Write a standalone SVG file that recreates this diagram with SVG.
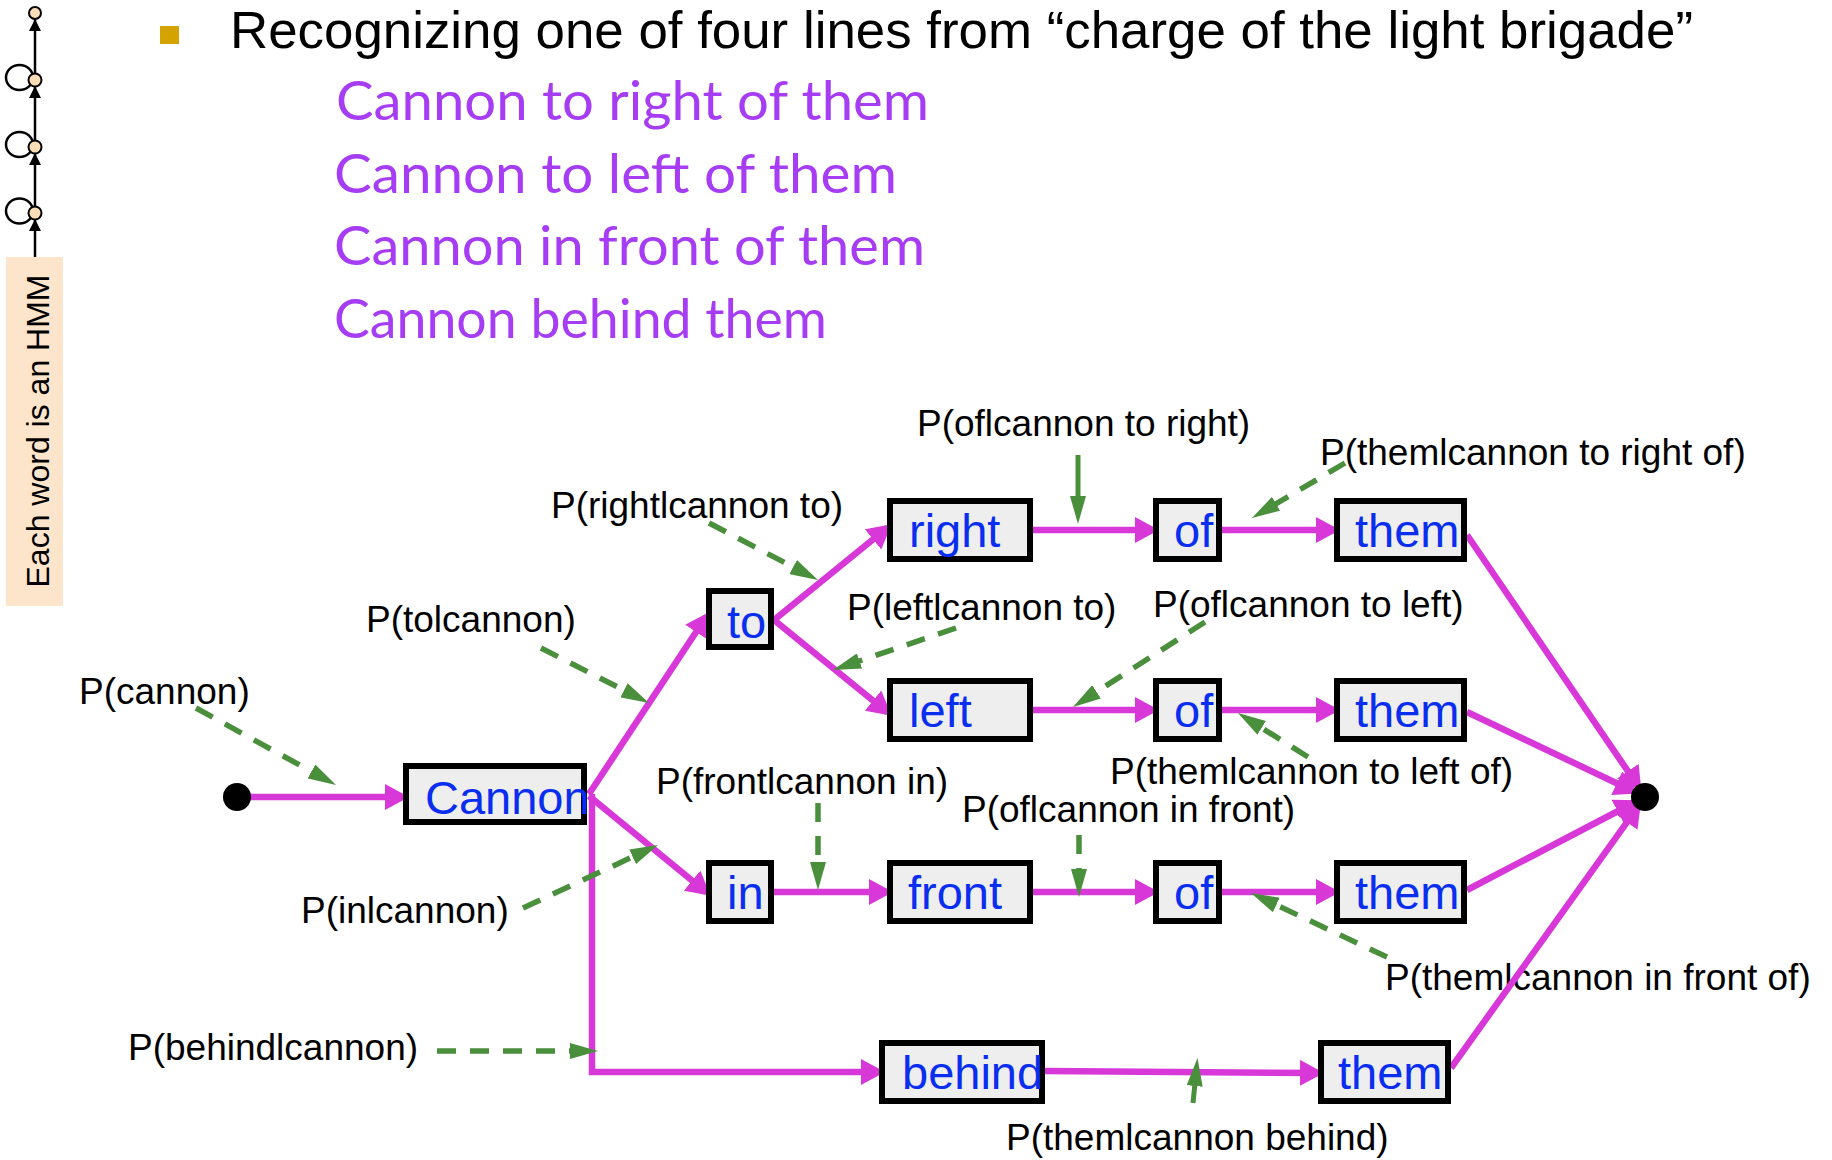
<svg xmlns="http://www.w3.org/2000/svg" width="1832" height="1160" viewBox="0 0 1832 1160">
<defs>
<style>
.lbl{font-family:"Liberation Sans",Arial,sans-serif;font-size:37px;fill:#000}
.word{font-family:"Liberation Sans",Arial,sans-serif;font-size:47px;fill:#0A2EF0}
.box{fill:#EEEEEE;stroke:#000;stroke-width:6}
.mag{fill:none;stroke:#D838D8;stroke-width:6.5;marker-end:url(#mh)}
.grn{fill:none;stroke:#4A8F3C;stroke-width:5.5;stroke-dasharray:19 14;marker-end:url(#gh)}
.grs{fill:none;stroke:#4A8F3C;stroke-width:5;marker-end:url(#gh)}
.verse{font-family:"Comic Sans MS","Lato",sans-serif;font-size:54px;fill:#A63DF5}
.hmm{fill:none;stroke:#000;stroke-width:2.5}
.st{fill:#FDDCB8;stroke:#000;stroke-width:2}
</style>
<marker id="mh" markerUnits="userSpaceOnUse" markerWidth="24" markerHeight="26" refX="18" refY="13" orient="auto">
<path d="M0,0 L24,13 L0,26 z" fill="#D838D8"/>
</marker>
<marker id="gh" markerUnits="userSpaceOnUse" markerWidth="28" markerHeight="16" refX="6" refY="8" orient="auto">
<path d="M0,0 L28,8 L0,16 z" fill="#4A8F3C"/>
</marker>
</defs>
<rect width="1832" height="1160" fill="#fff"/>

<g id="sidebar">
<rect x="6" y="257" width="57" height="349" fill="#FDE5CC"/>
<text transform="translate(49,431) rotate(-90)" text-anchor="middle" font-family="Liberation Sans,Arial,sans-serif" font-size="32" fill="#000">Each word is an HMM</text>
<line class="hmm" x1="35" y1="257" x2="35" y2="19"/>
<ellipse class="hmm" cx="19.5" cy="77.5" rx="13.5" ry="12.5"/>
<ellipse class="hmm" cx="19.5" cy="144.5" rx="13.5" ry="12.5"/>
<ellipse class="hmm" cx="19.5" cy="211" rx="13.5" ry="12.5"/>
<path d="M35,19 L29,31 L41,31 z M35,86 L29,98 L41,98 z M35,153 L29,165 L41,165 z M35,219 L29,231 L41,231 z" fill="#000"/>
<circle class="st" cx="35" cy="13" r="6"/>
<circle class="st" cx="35" cy="80" r="6.5"/>
<circle class="st" cx="35" cy="147" r="6.5"/>
<circle class="st" cx="35" cy="213" r="6.5"/>
</g>

<g id="title">
<rect x="160" y="26" width="19" height="18" fill="#D4A300"/>
<text x="230" y="48" font-family="Liberation Sans,Arial,sans-serif" font-size="52" fill="#000" textLength="1463" lengthAdjust="spacingAndGlyphs">Recognizing one of four lines from “charge of the light brigade”</text>
<text class="verse" x="336" y="120" textLength="593" lengthAdjust="spacingAndGlyphs">Cannon to right of them</text>
<text class="verse" x="334" y="193" textLength="563" lengthAdjust="spacingAndGlyphs">Cannon to left of them</text>
<text class="verse" x="334" y="265" textLength="591" lengthAdjust="spacingAndGlyphs">Cannon in front of them</text>
<text class="verse" x="334" y="338" textLength="493" lengthAdjust="spacingAndGlyphs">Cannon behind them</text>
</g>

<g id="labels">
<text class="lbl" x="79" y="704">P(cannon)</text>
<text class="lbl" x="366" y="632">P(tolcannon)</text>
<text class="lbl" x="551" y="518">P(rightlcannon to)</text>
<text class="lbl" x="917" y="436">P(oflcannon to right)</text>
<text class="lbl" x="1320" y="465">P(themlcannon to right of)</text>
<text class="lbl" x="847" y="620">P(leftlcannon to)</text>
<text class="lbl" x="1153" y="617">P(oflcannon to left)</text>
<text class="lbl" x="1110" y="784">P(themlcannon to left of)</text>
<text class="lbl" x="656" y="794">P(frontlcannon in)</text>
<text class="lbl" x="962" y="822">P(oflcannon in front)</text>
<text class="lbl" x="301" y="923">P(inlcannon)</text>
<text class="lbl" x="1385" y="990">P(themlcannon in front of)</text>
<text class="lbl" x="128" y="1060">P(behindlcannon)</text>
<text class="lbl" x="1006" y="1150">P(themlcannon behind)</text>
</g>

<g id="connectors">
<line class="mag" x1="250" y1="797" x2="403" y2="797"/>
<line class="mag" x1="589" y1="794" x2="706" y2="617"/>
<line class="mag" x1="589" y1="796" x2="706" y2="892"/>
<polyline class="mag" points="592,794 592,1072 879,1072"/>
<line class="mag" x1="774" y1="620" x2="887" y2="528"/>
<line class="mag" x1="774" y1="620" x2="887" y2="712"/>
<line class="mag" x1="1033" y1="530" x2="1153" y2="530"/>
<line class="mag" x1="1222" y1="530" x2="1334" y2="530"/>
<line class="mag" x1="1033" y1="710" x2="1153" y2="710"/>
<line class="mag" x1="1222" y1="710" x2="1334" y2="710"/>
<line class="mag" x1="774" y1="892" x2="887" y2="892"/>
<line class="mag" x1="1033" y1="892" x2="1153" y2="892"/>
<line class="mag" x1="1222" y1="892" x2="1334" y2="892"/>
<line class="mag" x1="1045" y1="1071" x2="1318" y2="1073"/>
<line class="mag" x1="1467" y1="535" x2="1638" y2="786"/>
<line class="mag" x1="1467" y1="712" x2="1633" y2="791"/>
<line class="mag" x1="1467" y1="890" x2="1633.5" y2="803"/>
<line class="mag" x1="1451" y1="1068" x2="1637.4" y2="807.6"/>

<line class="grn" x1="196" y1="708" x2="316.7" y2="774.4"/>
<line class="grn" x1="541" y1="648" x2="629.4" y2="693"/>
<line class="grn" x1="709" y1="523" x2="798.5" y2="569.8"/>
<line class="grs" x1="1078" y1="455" x2="1078" y2="502"/>
<line class="grn" x1="1345" y1="463" x2="1270.9" y2="506.8"/>
<line class="grn" x1="956" y1="628" x2="853.8" y2="662.9"/>
<line class="grn" x1="1205" y1="622" x2="1091.5" y2="695.1"/>
<line class="grn" x1="1308" y1="757" x2="1256.6" y2="724.7"/>
<line class="grn" x1="818" y1="803" x2="818" y2="868"/>
<line class="grn" x1="1079" y1="835" x2="1079" y2="875"/>
<line class="grn" x1="523" y1="908" x2="638.1" y2="854.3"/>
<line class="grn" x1="1387" y1="957" x2="1270.9" y2="902.4"/>
<line class="grn" x1="437" y1="1051" x2="576" y2="1051"/>
<line class="grs" x1="1193" y1="1103" x2="1195.3" y2="1080"/>
</g>

<g id="start"><circle cx="237" cy="797" r="14" fill="#000"/></g>
<g id="end"><circle cx="1645" cy="797" r="14" fill="#000"/></g>

<g id="n-cannon"><rect class="box" x="406" y="766" width="178" height="56"/><text class="word" x="425" y="814">Cannon</text></g>
<g id="n-to"><rect class="box" x="709" y="591" width="62" height="56"/><text class="word" x="727" y="638">to</text></g>
<g id="n-right"><rect class="box" x="890" y="501" width="140" height="58"/><text class="word" x="909" y="547">right</text></g>
<g id="n-of1"><rect class="box" x="1156" y="501" width="63" height="58"/><text class="word" x="1174" y="547">of</text></g>
<g id="n-them1"><rect class="box" x="1337" y="501" width="127" height="58"/><text class="word" x="1355" y="547">them</text></g>
<g id="n-left"><rect class="box" x="890" y="681" width="140" height="58"/><text class="word" x="909" y="727">left</text></g>
<g id="n-of2"><rect class="box" x="1156" y="681" width="63" height="58"/><text class="word" x="1174" y="727">of</text></g>
<g id="n-them2"><rect class="box" x="1337" y="681" width="127" height="58"/><text class="word" x="1355" y="727">them</text></g>
<g id="n-in"><rect class="box" x="709" y="863" width="62" height="58"/><text class="word" x="727" y="909">in</text></g>
<g id="n-front"><rect class="box" x="890" y="863" width="140" height="58"/><text class="word" x="908" y="909">front</text></g>
<g id="n-of3"><rect class="box" x="1156" y="863" width="63" height="58"/><text class="word" x="1174" y="909">of</text></g>
<g id="n-them3"><rect class="box" x="1337" y="863" width="127" height="58"/><text class="word" x="1355" y="909">them</text></g>
<g id="n-behind"><rect class="box" x="882" y="1043" width="160" height="58"/><text class="word" x="902" y="1089">behind</text></g>
<g id="n-them4"><rect class="box" x="1321" y="1043" width="127" height="58"/><text class="word" x="1338" y="1089">them</text></g>
</svg>
